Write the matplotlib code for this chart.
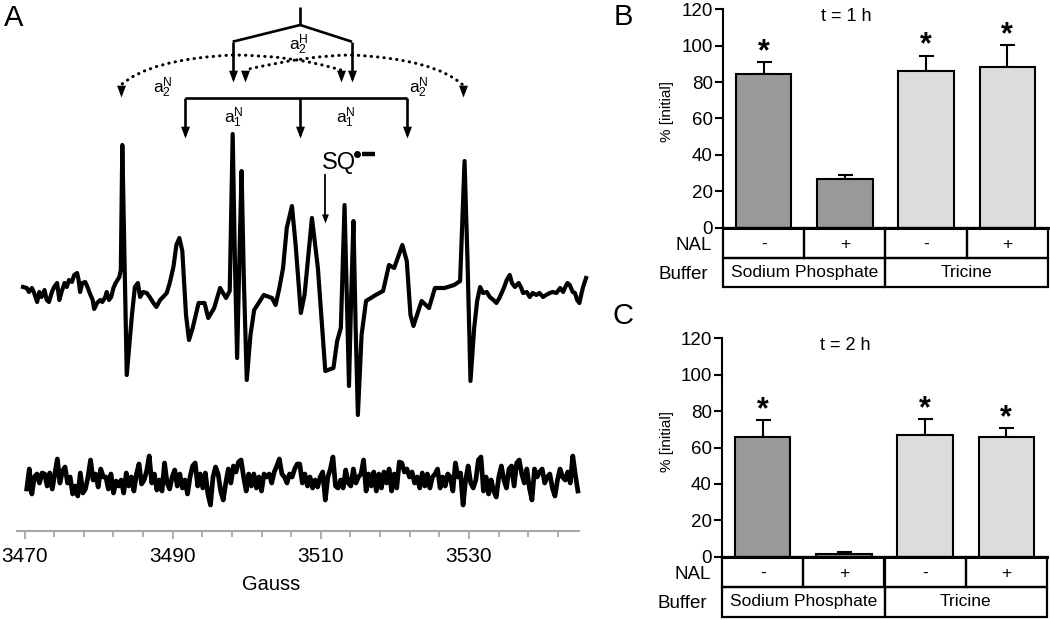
import numpy as np
import matplotlib
matplotlib.use('Agg')
import matplotlib.pyplot as plt
from matplotlib.path import Path
from matplotlib.patches import PathPatch, Rectangle

plt.rcParams['font.family'] = ['Liberation Sans', 'DejaVu Sans']

# ---------------- panel A: EPR spectra (field in Gauss, signal in px-like units) ----------------
top_gauss = [3469.8, 3470.3, 3470.6, 3471.0, 3471.3, 3471.7, 3472.0, 3472.3, 3472.7, 3473.0,
             3473.3, 3473.7, 3474.0, 3474.4, 3474.7, 3475.0, 3475.4, 3475.7, 3476.0, 3476.4,
             3476.7, 3477.1, 3477.3, 3477.5, 3477.8, 3478.2, 3478.5, 3478.8, 3479.2, 3479.4,
             3479.8, 3480.2, 3480.5, 3480.9, 3481.1, 3481.4, 3481.7, 3482.0, 3482.3, 3482.8,
             3483.0, 3483.2, 3483.5, 3483.8, 3484.5, 3484.9, 3485.3, 3485.6, 3486.0, 3486.5,
             3486.9, 3487.4, 3487.8, 3488.3, 3488.7, 3489.2, 3489.6, 3490.1, 3490.5, 3490.9,
             3491.3, 3491.8, 3492.2, 3492.7, 3493.5, 3494.3, 3494.8, 3495.6, 3496.4, 3497.2,
             3497.7, 3498.1, 3498.4, 3498.7, 3499.0, 3499.3, 3499.6, 3500.0, 3500.5, 3501.0,
             3502.3, 3503.4, 3503.9, 3504.4, 3504.9, 3505.4, 3506.1, 3506.6, 3507.3, 3507.8,
             3508.8, 3509.6, 3510.6, 3511.7, 3512.2, 3512.7, 3513.2, 3513.5, 3513.8, 3514.1,
             3514.4, 3514.7, 3515.0, 3515.5, 3516.1, 3517.4, 3518.4, 3519.2, 3519.9, 3521.0,
             3521.6, 3522.1, 3522.5, 3523.6, 3524.6, 3525.4, 3526.7, 3528.0, 3528.8, 3529.4,
             3529.8, 3530.2, 3530.7, 3531.1, 3531.5, 3531.9, 3532.4, 3532.8, 3533.3, 3533.7,
             3534.1, 3534.4, 3534.7, 3535.1, 3535.5, 3535.8, 3536.2, 3536.7, 3537.0, 3537.3,
             3537.8, 3538.2, 3538.6, 3539.1, 3539.5, 3540.0, 3540.4, 3540.9, 3541.3, 3541.8,
             3542.3, 3542.7, 3543.0, 3543.3, 3543.6, 3544.0, 3544.3, 3544.6, 3544.9, 3545.2,
             3545.4, 3545.8]
top_signal = [6, 5, 1, 5, 0, -9, 1, -4, 3, -7,
              -9, 1, 6, 10, -7, 1, 10, 6, 13, 11,
              18, 20, 13, 1, 10, 11, 6, 0, -7, -16,
              -10, -7, -9, -4, 1, -7, -4, 5, 10, 16,
              23, 148, 32, -82, -22, 6, 10, -4, 1, 0,
              -4, -10, -14, -7, -4, 0, 10, 26, 48, 55,
              42, -22, -47, -35, -10, -10, -25, -15, 5, -5,
              2, 159, 32, -65, 32, 122, 15, -87, -42, -17,
              -2, -5, -12, 5, 25, 65, 87, 48, -20, -2,
              75, 25, -78, -75, -48, -35, 88, -2, -93, -2,
              72, -35, -122, -42, -8, -2, 2, 28, 25, 48,
              32, -22, -33, -8, -15, 5, 5, 8, 12, 132,
              32, -88, -35, -8, 6, 0, 1, -4, -7, -10,
              -5, 0, 5, 13, 18, 10, 6, 10, 6, 0,
              1, -4, 0, -2, 0, -4, -2, 0, 1, 0,
              5, 1, 6, 10, 8, 1, 0, -7, -10, 0,
              6, 15]

# control trace: field sweep 3470.3 .. 3544.7 G, evenly sampled
bottom_signal = [-9, 11, -14, 3, 6, -3, 7, 6, -6, 7, -9, 6, 21, -3, 9, 13, -3, 3, -14, -6,
                 -16, 7, -13, -9, 3, 20, 0, 6, -7, 11, 3, 3, -9, 6, -13, -1, -6, 0, -13, 7,
                 -6, 3, -11, 6, 16, -4, 0, 9, 24, -3, 6, -10, 0, -11, 17, -3, -9, 3, 10, -6,
                 6,
                 -8, 0, -14, 3, 14, 17, -6, 6, -8, 7, -14, -25, 3, 13, 6, -11, -20, -3, 11, -3,
                 14, 8, 18, 20, 3, -11, 6, -6, 6, -8, 3, -11, 6, 3, 6, -3, 8, 14, 21, 6,
                 3, -3, 6, 3, 11, 16, 16, -3, 6, -6, 3, -8, 0, -7, 3, 8, -20, 3, 11, 23,
                 -6, -8, 0, -8, 10, -3, -6,
                 11, -3, 3, 6, 20, -11, 6, -6, 8, -11, 6, -8, 8, -3, 11, -11, 6, -8, 18, 17,
                 8, 11, 3, 8, -3, 3, -8, 7, -6, 6, -8, 3, 6, 11, -8, 3, -6, 6, 3, -11,
                 17, 3, 7, -25, 0, 14, -3, -8, 0, 20, 23, -11, 3, -14, 0, -11, -17, 3, 14, 0,
                 -8, 11, 14, -6, 17, 20,
                 6, -3, 11, -8, -20, 11, 3, 8, 11, -3, 3, 6, -8, -16, 0, 11, 3, 0, 8, -3,
                 24, 5, -11]
bottom_gauss = np.linspace(3470.3, 3544.7, len(bottom_signal))

# ---------------- panels B and C ----------------
nal = ['-', '+', '-', '+']
buffers = ['Sodium Phosphate', 'Tricine']
bar_colors = ['#999999', '#999999', '#dcdcdc', '#dcdcdc']
t1_mean = [84.3, 26.8, 85.9, 88.5]
t1_err = [6.6, 2.3, 8.6, 11.9]
t1_sig = [True, False, True, True]
t2_mean = [65.8, 1.3, 66.7, 65.8]
t2_err = [9.3, 1.4, 8.8, 4.7]
t2_sig = [True, False, True, True]

W, H = 1050, 620
fig = plt.figure(figsize=(10.5, 6.2), dpi=100)

# arrow head marker with its tip at the origin
head = Path([(0, 0), (-0.38, 1), (0.38, 1), (0, 0)],
            [Path.MOVETO, Path.LINETO, Path.LINETO, Path.CLOSEPOLY])

axA = fig.add_axes([0, (H - 531) / H, 600 / W, 531 / H])
axA.set_xlim(3466.69, 3466.69 + 600 / 7.408)
axA.set_ylim(0, 531)
for s in ['top', 'right', 'left']:
    axA.spines[s].set_visible(False)
axA.spines['bottom'].set_color('#a8a8a8')
axA.spines['bottom'].set_linewidth(1.5)
axA.spines['bottom'].set_bounds(3468.95, 3544.9)
axA.set_yticks([])
axA.set_xticks([3470, 3490, 3510, 3530])
axA.set_xticks(np.arange(3470, 3543, 4), minor=True)
axA.tick_params(axis='x', which='major', length=5.5, width=1.3, color='#a8a8a8',
                labelsize=15, pad=6)
axA.tick_params(axis='x', which='minor', length=4.5, width=1.3, color='#a8a8a8')

axA.plot(top_gauss, 238 + np.array(top_signal), color='k', lw=3.0, solid_joinstyle='round')
axA.plot(bottom_gauss, 51 + np.array(bottom_signal), color='k', lw=3.4, solid_joinstyle='round')

# splitting diagram
lk = dict(color='k', lw=1.9, solid_capstyle='butt')
axA.plot([3507.2, 3507.2], [524.3, 506], **lk)
axA.plot([3498.1, 3507.2, 3514.2], [489.3, 506, 489.3], **lk)
axA.plot([3498.1, 3498.1], [489.3, 452], **lk)
axA.plot([3514.2, 3514.2], [489.3, 452], **lk)
axA.plot([3491.6, 3521.6], [432.7, 432.7], **lk)
for gx in [3491.6, 3507.2, 3521.6]:
    axA.plot([gx, gx], [432.7, 396], **lk)

curves = [((3498.1, 476), (3487.0, 472), (3483.0, 446)),
          ((3514.2, 476), (3525.3, 472), (3529.2, 446)),
          ((3498.1, 476), (3506.0, 476), (3512.7, 461)),
          ((3514.2, 476), (3508.4, 476), (3499.7, 461))]
for p0, p1, p2 in curves:
    pth = Path([p0, p1, p2], [Path.MOVETO, Path.CURVE3, Path.CURVE3])
    pp = PathPatch(pth, fill=False, color='k', lw=2.2, linestyle=(0, (0.1, 2.0)))
    pp.set_capstyle('round')
    axA.add_patch(pp)

tips_x = [3483.0, 3498.1, 3499.7, 3512.7, 3514.2, 3529.2, 3491.6, 3507.2, 3521.6]
tips_y = [434.3, 449.3, 449.3, 449.3, 449.3, 434.3, 392.7, 392.7, 392.7]
axA.plot(tips_x, tips_y, ls='none', marker=head, ms=17, color='k', mew=0)

lab = dict(fontsize=12.5, ha='center', va='center')
axA.text(3507.0, 486, r'$\mathregular{a_2^H}$', **lab)
axA.text(3488.6, 443, r'$\mathregular{a_2^N}$', **lab)
axA.text(3523.2, 443, r'$\mathregular{a_2^N}$', **lab)
axA.text(3498.2, 413, r'$\mathregular{a_1^N}$', **lab)
axA.text(3513.3, 413, r'$\mathregular{a_1^N}$', **lab)

# SQ radical label
axA.text(3512.4, 368.5, 'SQ', fontsize=17, ha='center', va='center')
axA.plot([3514.9], [377], marker='o', ms=4, color='k')
axA.plot([3515.5, 3517.3], [377, 377], color='k', lw=3.2, solid_capstyle='butt')
axA.plot([3510.6, 3510.6], [356, 316], color='k', lw=1.3)
axA.plot([3510.6], [308], marker=head, ms=13, color='k', mew=0)

fig.text(14 / W, 1 - 18 / H, 'A', fontsize=21, ha='center', va='center')
fig.text(271 / W, 1 - 584 / H, 'Gauss', fontsize=14.5, ha='center', va='center')


def bar_panel(rect_bar, rect_tab, means, errs, sig, title):
    ax = fig.add_axes(rect_bar)
    x = np.arange(len(means))
    ax.bar(x, means, width=0.68, color=bar_colors, edgecolor='k', linewidth=1.5, zorder=2)
    ax.errorbar(x, means, yerr=[np.zeros(len(errs)), errs], fmt='none', ecolor='k',
                elinewidth=1.5, capsize=5.4, capthick=1.5, zorder=1)
    for i in range(len(means)):
        if sig[i]:
            ax.text(x[i], means[i] + errs[i] + 5.5, '*', fontsize=22, ha='center',
                    va='center', fontweight='bold')
    ax.set_xlim(-0.5, 3.5)
    ax.set_ylim(0, 120)
    ax.set_yticks(range(0, 121, 20))
    ax.set_xticks([])
    for s in ['top', 'right', 'bottom']:
        ax.spines[s].set_visible(False)
    ax.spines['left'].set_linewidth(1.5)
    ax.tick_params(axis='y', length=6, width=1.5, labelsize=13.5, pad=1.5)
    ax.text(1.02, 116, title, fontsize=13, ha='center', va='center')

    tb = fig.add_axes(rect_tab)
    tb.set_xlim(-0.5, 3.5)
    tb.set_ylim(0, 2)
    tb.axis('off')
    for i in range(4):
        tb.add_patch(Rectangle((i - 0.5, 1), 1, 1, fill=False, lw=1.6, clip_on=False))
        tb.text(i, 1.45, nal[i], fontsize=12.5, ha='center', va='center')
    for j in range(2):
        tb.add_patch(Rectangle((2 * j - 0.5, 0), 2, 1, fill=False, lw=1.6, clip_on=False))
        tb.text(2 * j + 0.5, 0.5, buffers[j], fontsize=12.5, ha='center', va='center')
    tb.plot([-0.5, 3.5], [2, 2], color='k', lw=2.2, clip_on=False)
    tb.text(-0.64, 1.4, 'NAL', fontsize=13.5, ha='right', va='center')
    tb.text(-0.685, 0.43, 'Buffer', fontsize=13.5, ha='right', va='center')


bar_panel([723.3 / W, 1 - 227.7 / H, 324.4 / W, 218.4 / H],
          [723.3 / W, 1 - 287.3 / H, 324.4 / W, 59.6 / H],
          t1_mean, t1_err, t1_sig, 't = 1 h')
bar_panel([722.3 / W, 1 - 556.7 / H, 324.4 / W, 218.4 / H],
          [722.3 / W, 1 - 616.7 / H, 324.4 / W, 60.0 / H],
          t2_mean, t2_err, t2_sig, 't = 2 h')

fig.text(623 / W, 1 - 17 / H, 'B', fontsize=21, ha='center', va='center')
fig.text(623 / W, 1 - 316 / H, 'C', fontsize=21, ha='center', va='center')
fig.text(666.7 / W, 1 - 111.7 / H, '% [initial]', fontsize=11, rotation=90,
         ha='center', va='center')
fig.text(666.7 / W, 1 - 441.7 / H, '% [initial]', fontsize=11, rotation=90,
         ha='center', va='center')

fig.savefig('out.png', dpi=100)
